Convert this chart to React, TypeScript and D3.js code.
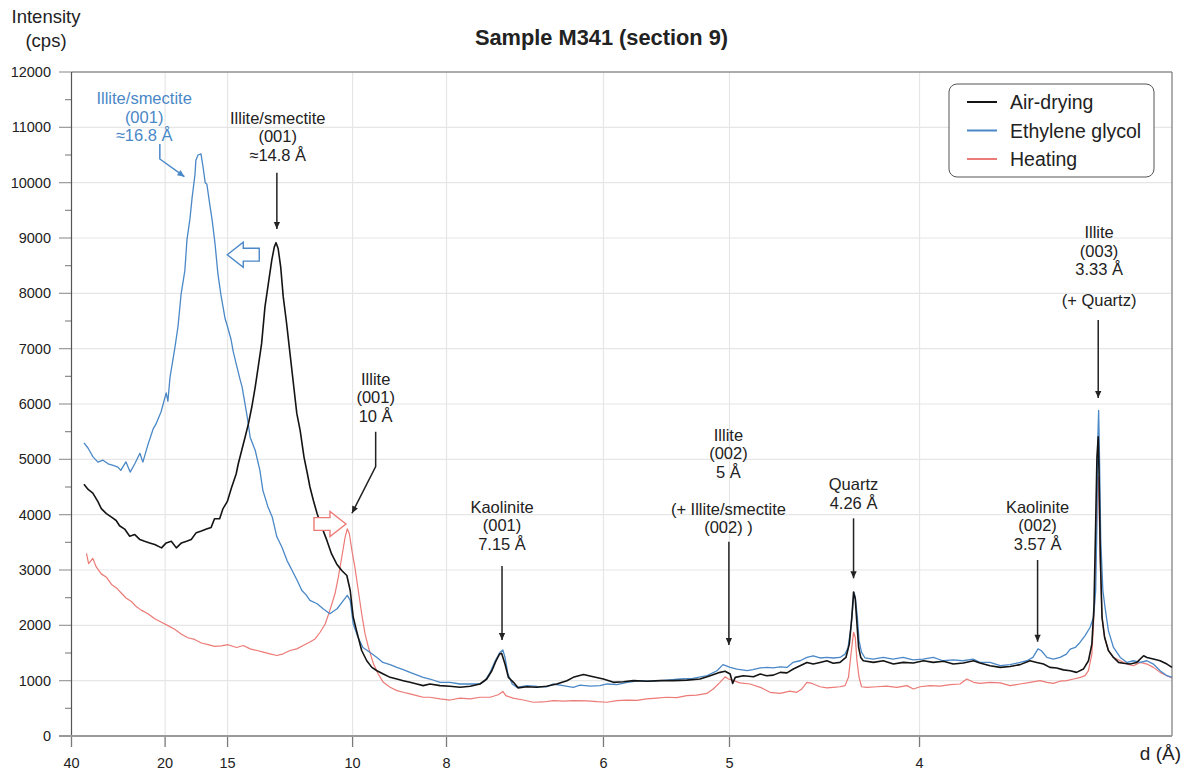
import React from "react";
import * as d3 from "d3";

// ---------- DATA ----------
const LAMBDA = 1.5406; // Cu Kα (Å)
const dTickLabels = [40, 20, 15, 10, 8, 6, 5, 4];
const intensityTicks = [0, 1000, 2000, 3000, 4000, 5000, 6000, 7000, 8000, 9000, 10000, 11000, 12000];
const intensityMinorTicks = [500, 1500, 2500, 3500, 4500, 5500, 6500, 7500, 8500, 9500, 10500, 11500];
const seriesNames = ["Air-drying", "Ethylene glycol", "Heating"];

// [2θ (°), intensity (cps)]
const airDrying: [number, number][] = [
  [2.50,4548],[2.60,4455],[2.71,4390],[2.83,4235],[2.91,4110],[3.03,4020],[3.15,3955],[3.26,3895],[3.34,3800],[3.46,3740],[3.58,3610],[3.70,3640],[3.82,3550],[3.93,3520],[4.05,3490],[4.17,3460],[4.33,3400],[4.44,3490],[4.56,3520],[4.68,3400],[4.80,3490],[4.92,3520],[5.03,3550],[5.15,3675],[5.27,3705],[5.39,3740],[5.50,3770],[5.58,3925],[5.70,3925],[5.78,4110],[5.88,4235],[5.98,4485],[6.09,4735],[6.14,4920],[6.22,5160],[6.30,5400],[6.38,5645],[6.46,5950],[6.54,6310],[6.61,6670],[6.69,7090],[6.77,7760],[6.85,8180],[6.93,8600],[6.99,8840],[7.03,8915],[7.08,8810],[7.14,8480],[7.20,7940],[7.28,7455],[7.36,6910],[7.44,6370],[7.52,5830],[7.60,5520],[7.69,5040],[7.77,4740],[7.83,4500],[7.91,4260],[8.00,4015],[8.11,3775],[8.23,3535],[8.34,3290],[8.46,3110],[8.58,2990],[8.70,2900],[8.78,2630],[8.85,2150],[8.93,1900],[9.05,1545],[9.17,1360],[9.29,1240],[9.41,1180],[9.56,1120],[9.72,1060],[9.88,1030],[10.03,1000],[10.19,970],[10.35,940],[10.50,910],[10.66,940],[10.90,910],[11.13,900],[11.37,880],[11.61,900],[11.84,940],[12.00,1030],[12.12,1180],[12.22,1360],[12.30,1480],[12.35,1495],[12.43,1300],[12.51,1060],[12.63,970],[12.74,870],[12.94,890],[13.18,880],[13.41,900],[13.65,940],[13.89,1000],[14.04,1060],[14.28,1110],[14.51,1070],[14.75,1030],[14.99,970],[15.22,980],[15.46,1000],[15.77,990],[16.09,1000],[16.40,1000],[16.72,1010],[17.03,1030],[17.27,1090],[17.50,1150],[17.62,1170],[17.74,1120],[17.80,950],[17.86,1060],[18.05,1090],[18.29,1070],[18.45,1120],[18.60,1090],[18.76,1100],[18.92,1150],[19.08,1140],[19.23,1210],[19.39,1270],[19.55,1330],[19.70,1300],[19.86,1330],[20.02,1360],[20.17,1315],[20.33,1330],[20.47,1420],[20.55,1660],[20.61,2150],[20.65,2600],[20.69,2480],[20.73,2030],[20.77,1600],[20.82,1420],[20.88,1360],[21.12,1330],[21.35,1360],[21.59,1300],[21.82,1330],[22.06,1320],[22.30,1360],[22.53,1330],[22.77,1350],[23.00,1300],[23.24,1320],[23.48,1360],[23.63,1320],[23.87,1270],[24.11,1240],[24.34,1255],[24.58,1290],[24.81,1360],[24.97,1330],[25.13,1300],[25.28,1240],[25.44,1230],[25.60,1195],[25.76,1180],[25.91,1150],[26.07,1210],[26.19,1360],[26.27,1660],[26.32,2330],[26.36,3835],[26.39,5040],[26.42,5405],[26.44,4740],[26.47,3235],[26.51,2145],[26.57,1785],[26.66,1545],[26.78,1420],[26.90,1330],[27.01,1315],[27.17,1300],[27.33,1330],[27.49,1450],[27.57,1420],[27.72,1390],[27.88,1360],[28.04,1300],[28.16,1240],
];

const ethyleneGlycol: [number, number][] = [
  [2.50,5296],[2.60,5200],[2.71,5050],[2.83,4950],[2.95,4985],[3.07,4920],[3.19,4890],[3.30,4860],[3.37,4800],[3.49,4955],[3.59,4770],[3.70,4920],[3.82,5110],[3.89,4950],[4.01,5265],[4.13,5545],[4.20,5640],[4.32,5860],[4.44,6200],[4.48,6050],[4.53,6480],[4.65,7040],[4.72,7410],[4.79,7975],[4.88,8410],[4.93,8970],[5.00,9345],[5.05,9720],[5.12,10155],[5.14,10405],[5.19,10500],[5.26,10520],[5.31,10280],[5.36,10000],[5.40,9970],[5.47,9595],[5.52,9345],[5.59,8910],[5.66,8350],[5.73,7975],[5.83,7540],[5.88,7415],[5.97,7165],[6.02,6950],[6.09,6730],[6.18,6450],[6.23,6310],[6.35,5770],[6.42,5400],[6.54,5160],[6.65,4800],[6.72,4440],[6.84,4140],[6.94,3960],[7.05,3600],[7.17,3410],[7.29,3170],[7.41,2990],[7.53,2810],[7.64,2630],[7.74,2550],[7.83,2450],[8.00,2390],[8.14,2300],[8.30,2210],[8.47,2300],[8.59,2420],[8.71,2540],[8.78,2450],[8.85,2030],[8.96,1790],[9.08,1600],[9.25,1510],[9.41,1420],[9.55,1330],[9.72,1290],[9.88,1240],[10.03,1200],[10.19,1150],[10.36,1100],[10.50,1060],[10.66,1030],[10.90,970],[11.13,970],[11.37,940],[11.61,940],[11.84,940],[11.96,1000],[12.08,1150],[12.20,1360],[12.31,1510],[12.38,1555],[12.43,1420],[12.50,1120],[12.60,940],[12.71,880],[12.95,910],[13.19,895],[13.42,890],[13.56,940],[13.80,910],[14.04,880],[14.20,920],[14.44,900],[14.67,910],[14.84,940],[15.07,930],[15.31,970],[15.62,1000],[15.92,990],[16.25,1010],[16.56,1030],[16.86,1040],[17.20,1090],[17.43,1180],[17.57,1290],[17.74,1240],[17.90,1210],[18.14,1180],[18.28,1200],[18.45,1230],[18.61,1240],[18.75,1230],[18.92,1250],[19.08,1240],[19.22,1330],[19.39,1360],[19.55,1420],[19.70,1450],[19.86,1410],[20.02,1420],[20.17,1410],[20.33,1420],[20.45,1480],[20.52,1600],[20.59,1965],[20.63,2330],[20.66,2600],[20.69,2510],[20.74,2150],[20.78,1720],[20.84,1510],[20.92,1410],[21.11,1390],[21.35,1420],[21.58,1390],[21.82,1420],[22.05,1375],[22.29,1390],[22.53,1420],[22.76,1360],[23.00,1375],[23.23,1360],[23.47,1390],[23.63,1330],[23.87,1330],[24.11,1270],[24.34,1290],[24.58,1330],[24.74,1360],[24.88,1420],[25.00,1575],[25.08,1540],[25.21,1420],[25.36,1390],[25.52,1420],[25.67,1480],[25.76,1570],[25.88,1600],[25.99,1690],[26.11,1815],[26.23,1965],[26.31,2145],[26.36,2630],[26.39,3835],[26.41,5345],[26.43,5885],[26.45,5045],[26.48,3535],[26.53,2630],[26.58,2330],[26.66,1905],[26.78,1600],[26.94,1420],[27.10,1330],[27.25,1360],[27.41,1330],[27.57,1360],[27.72,1300],[27.88,1180],[28.04,1090],[28.16,1060],
];

const heating: [number, number][] = [
  [2.56,3302],[2.61,3115],[2.71,3210],[2.79,3055],[2.91,2930],[3.03,2870],[3.15,2740],[3.26,2680],[3.38,2585],[3.50,2490],[3.62,2430],[3.74,2335],[3.85,2275],[4.01,2210],[4.17,2120],[4.33,2055],[4.48,1995],[4.64,1930],[4.80,1840],[4.95,1775],[5.11,1745],[5.27,1680],[5.43,1650],[5.58,1620],[5.74,1630],[5.90,1650],[6.10,1600],[6.26,1635],[6.42,1575],[6.58,1545],[6.73,1515],[6.89,1485],[7.05,1455],[7.20,1485],[7.36,1545],[7.52,1575],[7.67,1635],[7.83,1700],[7.95,1755],[8.07,1875],[8.19,2025],[8.30,2270],[8.42,2570],[8.50,2870],[8.58,3230],[8.66,3595],[8.71,3745],[8.76,3655],[8.82,3350],[8.89,3050],[8.97,2630],[9.05,2210],[9.13,1845],[9.21,1600],[9.33,1300],[9.44,1120],[9.56,970],[9.72,880],[9.88,820],[10.03,790],[10.19,760],[10.35,730],[10.50,700],[10.66,700],[10.90,670],[11.13,650],[11.37,685],[11.61,670],[11.84,700],[12.08,700],[12.27,745],[12.38,805],[12.45,730],[12.62,685],[12.86,650],[13.10,610],[13.33,615],[13.57,640],[13.81,630],[14.04,640],[14.36,635],[14.60,620],[14.83,610],[15.07,640],[15.30,650],[15.54,645],[15.77,670],[16.01,685],[16.24,700],[16.48,695],[16.72,730],[16.95,740],[17.19,770],[17.34,850],[17.50,970],[17.62,1070],[17.70,1030],[17.82,1000],[17.97,960],[18.21,940],[18.45,880],[18.68,790],[18.92,770],[19.15,810],[19.31,790],[19.43,850],[19.55,970],[19.67,950],[19.86,890],[20.02,870],[20.17,880],[20.33,890],[20.45,910],[20.53,1060],[20.59,1480],[20.65,1875],[20.69,1785],[20.73,1360],[20.78,1060],[20.84,890],[20.96,880],[21.20,890],[21.43,900],[21.67,880],[21.91,910],[22.06,850],[22.22,890],[22.45,910],[22.69,900],[22.93,930],[23.16,940],[23.32,1030],[23.48,970],[23.63,950],[23.87,970],[24.11,960],[24.34,910],[24.58,940],[24.81,970],[25.05,1000],[25.21,970],[25.36,950],[25.52,990],[25.68,1000],[25.84,1030],[26.00,1060],[26.11,1090],[26.19,1180],[26.27,1480],[26.33,2330],[26.37,3535],[26.40,4560],[26.42,4680],[26.44,4140],[26.47,3110],[26.51,2145],[26.57,1785],[26.66,1545],[26.78,1420],[26.94,1360],[27.10,1300],[27.25,1270],[27.41,1330],[27.57,1300],[27.72,1240],[27.88,1150],[28.04,1090],[28.16,1050],
];

// annotation texts: position in data units (2θ, intensity of first line)
const annotationTexts = [
  { lines: ["Illite/smectite", "(001)", "≈16.8 Å"], at: 3.92, top: 11530, blue: true },
  { lines: ["Illite/smectite", "(001)", "≈14.8 Å"], at: 7.07, top: 11175 },
  { lines: ["Illite", "(001)", "10 Å"], at: 9.38, top: 6452 },
  { lines: ["Kaolinite", "(001)", "7.15 Å"], at: 12.36, top: 4144 },
  { lines: ["Illite", "(002)", "5 Å", "", "(+ Illite/smectite", "(002) )"], at: 17.7, top: 5445, blank: 18.5 },
  { lines: ["Quartz", "4.26 Å"], at: 20.65, top: 4549 },
  { lines: ["Kaolinite", "(002)", "3.57 Å"], at: 24.99, top: 4144 },
  { lines: ["Illite", "(003)", "3.33 Å", "", "(+ Quartz)"], at: 26.44, top: 9108, blank: 12 },
];

// annotation arrows: polylines in data units, arrowhead at last point
const annotationArrows: { pts: [number, number][]; blue?: boolean }[] = [
  { pts: [[4.29, 10699], [4.29, 10428], [4.87, 10108]], blue: true },
  { pts: [[7.05, 10180], [7.05, 9163]] },
  { pts: [[9.38, 5499], [9.38, 4867], [8.82, 4025]] },
  { pts: [[12.36, 3072], [12.36, 1735]] },
  { pts: [[17.71, 3511], [17.71, 1645]] },
  { pts: [[20.65, 3934], [20.65, 2850]] },
  { pts: [[24.99, 3181], [24.99, 1704]] },
  { pts: [[26.42, 7518], [26.42, 6108]] },
];

// hollow shift arrows: tip in data units, direction
const shiftArrows = [
  { tip: [5.88, 8698] as [number, number], dir: -1, blue: true },
  { tip: [8.68, 3831] as [number, number], dir: 1, blue: false },
];

// ---------- STYLE ----------
const FONT = "'Liberation Sans', Arial, Helvetica, sans-serif";
const COLORS = ["#141414", "#4a88c7", "#ec7a76"];
const WIDTHS = [1.6, 1.3, 1.2];
const GRID = "#e6e6e6";

const braggTwoTheta = (d: number) => (2 * Math.asin(LAMBDA / (2 * d)) * 180) / Math.PI;

export default function App() {
  const X0 = 71.5, X1 = 1172, Y0 = 736, Y1 = 72;
  const x = d3.scaleLinear().domain([braggTwoTheta(40), 28.16]).range([X0, X1]);
  const y = d3.scaleLinear().domain([0, 12000]).range([Y0, Y1]);
  const line = d3
    .line<[number, number]>()
    .x((d) => x(d[0]))
    .y((d) => y(d[1]));
  const series = [airDrying, ethyleneGlycol, heating];
  const drawOrder = [2, 1, 0];

  const hollow = (tip: [number, number], dir: number) => {
    const tx = x(tip[0]), ty = y(tip[1]);
    const hl = 16, hh = 12.5, sh = 6.4, sl = 16;
    const s = -dir;
    const pts = [
      [tx, ty],
      [tx + s * hl, ty - hh],
      [tx + s * hl, ty - sh],
      [tx + s * (hl + sl), ty - sh],
      [tx + s * (hl + sl), ty + sh],
      [tx + s * hl, ty + sh],
      [tx + s * hl, ty + hh],
    ];
    return pts.map((p) => p.join(",")).join(" ");
  };

  return (
    <svg
      width={1190}
      height={771}
      style={{ position: "absolute", left: 0, top: 0, background: "#fff" }}
      fontFamily={FONT}
    >
      <defs>
        <marker id="ahK" viewBox="0 0 10 10" refX="10" refY="5" markerWidth="10" markerHeight="7" markerUnits="userSpaceOnUse" orient="auto">
          <path d="M0,0.5 L10,5 L0,9.5 z" fill="#222" />
        </marker>
        <marker id="ahB" viewBox="0 0 10 10" refX="10" refY="5" markerWidth="9" markerHeight="7" markerUnits="userSpaceOnUse" orient="auto">
          <path d="M0,0.5 L10,5 L0,9.5 z" fill={COLORS[1]} />
        </marker>
      </defs>

      {intensityTicks.map((v) => (
        <g key={"h" + v}>
          <line x1={X0} x2={X1} y1={y(v)} y2={y(v)} stroke={GRID} strokeWidth={1.2} />
          <line x1={59} x2={X0} y1={y(v)} y2={y(v)} stroke="#9a9a9a" strokeWidth={1.2} />
          <text x={51} y={y(v)} textAnchor="end" dominantBaseline="central" fontSize={14.5} fill="#222">
            {v}
          </text>
        </g>
      ))}
      {intensityMinorTicks.map((v) => (
        <line key={"m" + v} x1={65} x2={X0} y1={y(v)} y2={y(v)} stroke="#8a8a8a" strokeWidth={1.2} />
      ))}
      {dTickLabels.map((d) => {
        const px = x(braggTwoTheta(d));
        return (
          <g key={"v" + d}>
            {d !== 40 && <line x1={px} x2={px} y1={Y1} y2={Y0} stroke={GRID} strokeWidth={1.2} />}
            <line x1={px} x2={px} y1={Y0} y2={Y0 + 11} stroke="#7a7a7a" strokeWidth={1.3} />
            <text x={px} y={763} textAnchor="middle" dominantBaseline="central" fontSize={14.5} fill="#222">
              {d}
            </text>
          </g>
        );
      })}

      <line x1={X0} x2={X1} y1={Y1} y2={Y1} stroke="#666" strokeWidth={1.2} />
      <line x1={X1} x2={X1} y1={Y1} y2={Y0} stroke="#777" strokeWidth={1.2} />
      <line x1={X0} x2={X0} y1={Y1} y2={Y0} stroke="#555" strokeWidth={1.2} />
      <line x1={59} x2={X1} y1={Y0} y2={Y0} stroke="#9a9a9a" strokeWidth={2} />

      {drawOrder.map((i) => (
        <path
          key={"s" + i}
          d={line(series[i]) || ""}
          fill="none"
          stroke={COLORS[i]}
          strokeWidth={WIDTHS[i]}
          strokeLinejoin="round"
        />
      ))}

      {shiftArrows.map((a, i) => (
        <polygon
          key={"ha" + i}
          points={hollow(a.tip, a.dir)}
          fill="#fff"
          stroke={a.blue ? COLORS[1] : COLORS[2]}
          strokeWidth={1.4}
        />
      ))}

      {annotationArrows.map((a, i) => (
        <polyline
          key={"aa" + i}
          points={a.pts.map((p) => `${x(p[0])},${y(p[1])}`).join(" ")}
          fill="none"
          stroke={a.blue ? COLORS[1] : "#222"}
          strokeWidth={1.5}
          markerEnd={a.blue ? "url(#ahB)" : "url(#ahK)"}
        />
      ))}

      {annotationTexts.map((a, i) => {
        let yy = y(a.top);
        const out: any[] = [];
        a.lines.forEach((t, j) => {
          if (j > 0) yy += t === "" ? a.blank ?? 18.5 : 18.5;
          if (t !== "")
            out.push(
              <text
                key={j}
                x={x(a.at)}
                y={yy}
                textAnchor="middle"
                dominantBaseline="central"
                fontSize={16.5}
                fill={a.blue ? COLORS[1] : "#222"}
              >
                {t}
              </text>
            );
        });
        return <g key={"at" + i}>{out}</g>;
      })}

      <rect x={949} y={84} width={205} height={93} rx={8} fill="#fff" stroke="#555" strokeWidth={1} />
      {seriesNames.map((n, i) => (
        <g key={"lg" + i}>
          <line x1={967} x2={997} y1={102 + i * 28.5} y2={102 + i * 28.5} stroke={COLORS[i]} strokeWidth={2} />
          <text x={1010} y={102 + i * 28.5} dominantBaseline="central" fontSize={19.5} fill="#222">
            {n}
          </text>
        </g>
      ))}

      <text x={601.5} y={37} textAnchor="middle" dominantBaseline="central" fontSize={21.8} fontWeight="bold" fill="#222">
        Sample M341 (section 9)
      </text>
      <text x={46} y={16} textAnchor="middle" dominantBaseline="central" fontSize={18.5} fill="#222">
        Intensity
      </text>
      <text x={46} y={40} textAnchor="middle" dominantBaseline="central" fontSize={18.5} fill="#222">
        (cps)
      </text>
      <text x={1181} y={753} textAnchor="end" dominantBaseline="central" fontSize={19} fill="#222">
        d (Å)
      </text>
    </svg>
  );
}
